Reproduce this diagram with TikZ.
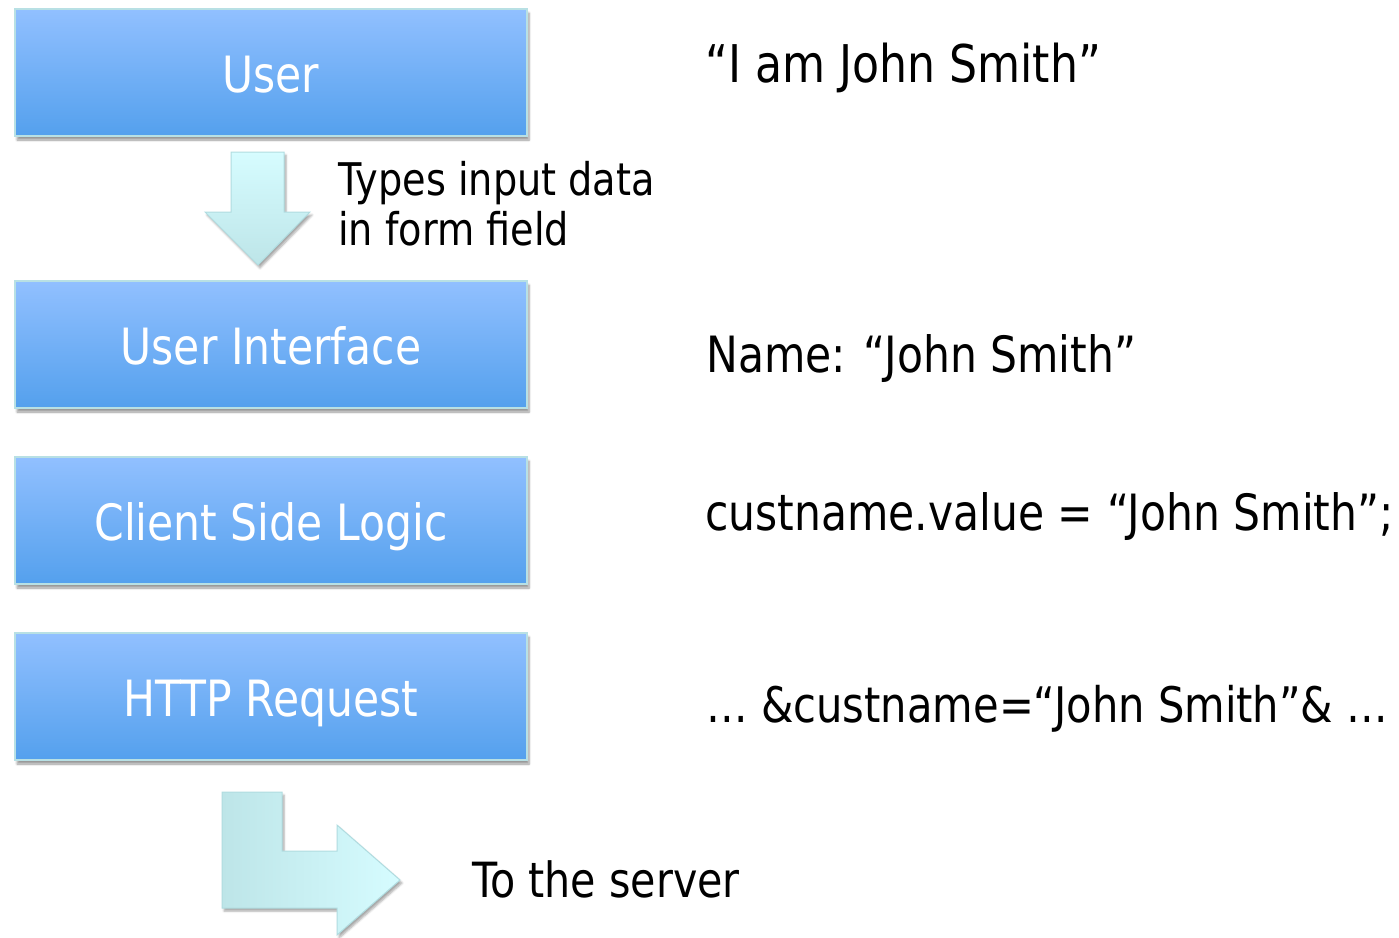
\documentclass[tikz,border=0pt]{standalone}
\usepackage{fontspec}
\setmainfont[FakeStretch=0.85]{DejaVu Sans}
\usetikzlibrary{shadows.blur}
\definecolor{boxtop}{HTML}{91C0FF}
\definecolor{boxbot}{HTML}{54A0ED}
\definecolor{boxline}{HTML}{B8E0E4}
\definecolor{arrtop}{HTML}{D6FCFF}
\definecolor{arrbot}{HTML}{BDE5E8}
\definecolor{arrline}{HTML}{B0DCE0}
\begin{document}
\begin{tikzpicture}[x=1pt,y=-1pt,
  stepbox/.style={draw=boxline,line width=1.5pt,top color=boxtop,bottom color=boxbot,
    blur shadow={shadow xshift=2pt,shadow yshift=-4pt,shadow blur steps=6,shadow opacity=40}},
  boxtext/.style={text=white,anchor=base,inner sep=0pt,font=\fontsize{50}{60}\selectfont},
  sidetext/.style={anchor=base west,inner sep=0pt,font=\fontsize{51}{60}\selectfont},
  arrowshape/.style={draw=arrline,line width=1pt,
    blur shadow={shadow xshift=2pt,shadow yshift=-3pt,shadow blur steps=5,shadow opacity=35}}]
\useasboundingbox (0,0) rectangle (1399,937);
% boxes
\path[stepbox] (15,9) rectangle (527,136);
\path[stepbox] (15,281) rectangle (527,408);
\path[stepbox] (15,457) rectangle (527,584);
\path[stepbox] (15,633) rectangle (527,760);
\node[boxtext] (user) at (271,92) {User};
\node[boxtext] (ui) at (271,364) {User Interface};
\node[boxtext] (csl) at (271,540) {Client Side Logic};
\node[boxtext] (http) at (271,716) {HTTP Request};
% down arrow
\path[arrowshape,top color=arrtop,bottom color=arrbot]
  (231,152) -- (284,152) -- (284,212) -- (310,212) -- (258,265) -- (205,212) -- (231,212) -- cycle;
% bent arrow
\path[arrowshape,left color=arrbot,right color=arrtop]
  (222,792) -- (282,792) -- (282,851) -- (337,851) -- (337,825) -- (400,880) -- (337,935) -- (337,908) -- (222,908) -- cycle;
% texts
\node[sidetext,font=\fontsize{45}{50}\selectfont] (types) at (338,195) {Types input data};
\node[sidetext,font=\fontsize{45}{50}\selectfont] (form) at (338,245) {in form field};
\node[sidetext,font=\fontsize{52}{60}\selectfont] (iam) at (705,82) {“I am John Smith”};
\node[sidetext,font=\fontsize{50}{60}\selectfont] (name) at (706,372) {Name: “John Smith”};
\node[sidetext,font=\fontsize{50}{56}\selectfont] (cust) at (705,530) {custname.value = “John Smith”;};
\node[sidetext,font=\fontsize{49}{56}\selectfont] (req) at (706,722) {… \&custname=“John Smith”\& …};
\node[sidetext,font=\fontsize{48.5}{56}\selectfont] (server) at (472,897) {To the server};
\end{tikzpicture}
\end{document}
